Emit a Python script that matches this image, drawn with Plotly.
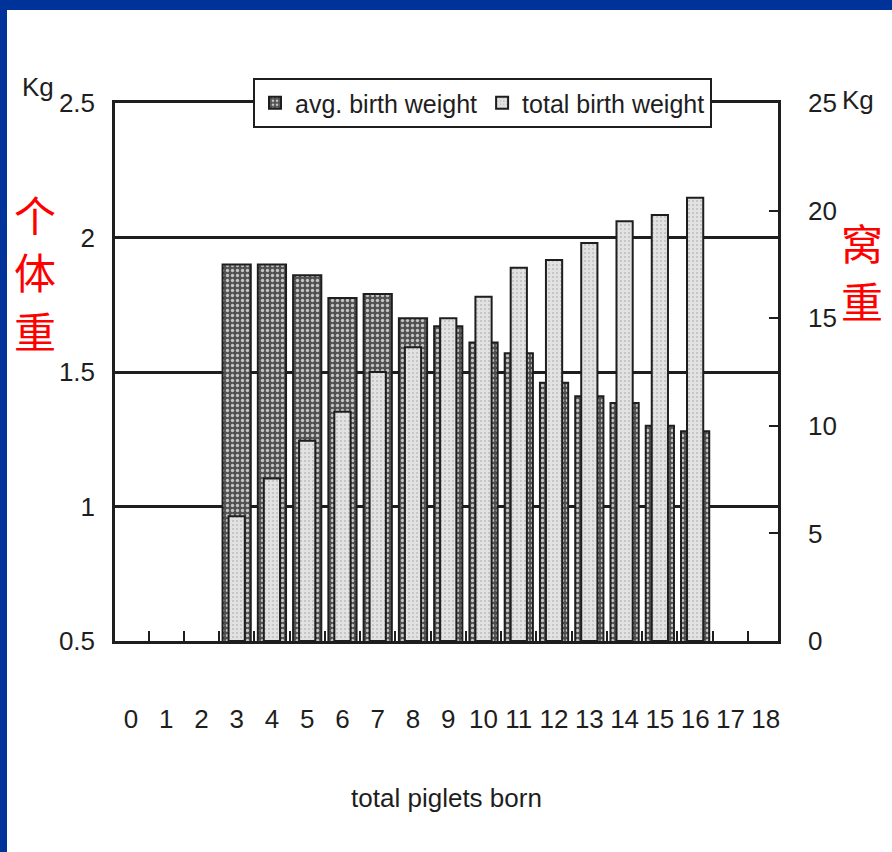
import plotly.graph_objects as go

# ---------------- data ----------------
categories = [str(i) for i in range(19)]
avg_weight = [None, None, None, 1.90, 1.90, 1.86, 1.775, 1.79, 1.70, 1.67,
              1.61, 1.57, 1.46, 1.41, 1.385, 1.30, 1.28, None, None]
total_weight = [None, None, None, 5.8, 7.55, 9.3, 10.65, 12.5, 13.65, 15.0,
                16.0, 17.35, 17.7, 18.5, 19.5, 19.8, 20.6, None, None]
left_ticks = [0.5, 1, 1.5, 2, 2.5]
left_labels = ["0.5", "1", "1.5", "2", "2.5"]
right_ticks = [0, 5, 10, 15, 20, 25]
right_labels = ["0", "5", "10", "15", "20", "25"]
left_note = ["个", "体", "重"]
right_note = ["窝", "重"]

# ---------------- layout helpers ----------------
W, H = 892, 852
L, R, T, B = 115, 114, 103, 211
PW, PH = W - L - R, H - T - B


def px(x):
    return (x - L) / PW


def py(y):
    return (H - B - y) / PH


FONT = "Liberation Sans, Arial, sans-serif"
INK = "#1e1e1e"
BLUE = "#00339a"

fig = go.Figure()
fig.add_trace(go.Bar(
    x=categories, y=avg_weight, name="avg. birth weight", width=0.8,
    yaxis="y",
    marker=dict(
        color="#5c5c5c",
        line=dict(color=INK, width=2),
        pattern=dict(shape=".", fgcolor="#c4c4c4", bgcolor="#505050",
                     size=5, solidity=0.35, fillmode="replace"),
    ),
))
fig.add_trace(go.Bar(
    x=categories, y=total_weight, name="total birth weight", width=0.46,
    yaxis="y2",
    marker=dict(
        color="#dcdcdc",
        line=dict(color=INK, width=2),
        pattern=dict(shape=".", fgcolor="#bdbdbd", bgcolor="#e2e2e2",
                     size=4, solidity=0.2, fillmode="replace"),
    ),
))

fig.update_layout(
    width=W, height=H,
    margin=dict(l=L, r=R, t=T, b=B, pad=0),
    paper_bgcolor="white", plot_bgcolor="white",
    barmode="overlay",
    font=dict(family=FONT, size=26, color=INK),
    showlegend=True,
    legend=dict(
        orientation="h", x=px(253), y=py(78), xanchor="left", yanchor="top",
        bgcolor="white", bordercolor=INK, borderwidth=2,
        font=dict(family=FONT, size=25, color=INK),
        itemwidth=30, traceorder="normal",
    ),
    xaxis=dict(
        type="category", categoryorder="array", categoryarray=categories,
        range=[-0.45, 18.35], tickson="boundaries", tickmode="linear", dtick=1,
        tickangle=0,
        ticks="inside", ticklen=10, tickwidth=2, tickcolor=INK,
        showgrid=False, showline=True, linewidth=2.5, linecolor=INK, mirror=True,
        tickfont=dict(family=FONT, size=26, color=INK),
        ticklabelstandoff=53,
        title=dict(text="total piglets born", standoff=56,
                   font=dict(family=FONT, size=26, color=INK)),
    ),
    yaxis=dict(
        range=[0.5, 2.5], tickmode="array", tickvals=left_ticks, ticktext=left_labels,
        ticks="", showgrid=True, gridcolor=INK, gridwidth=2.5,
        showline=True, linewidth=2.5, linecolor=INK, zeroline=False,
        tickfont=dict(family=FONT, size=26, color=INK),
        ticklabelstandoff=12,
    ),
    yaxis2=dict(
        overlaying="y", side="right", range=[0, 25],
        tickmode="array", tickvals=right_ticks, ticktext=right_labels,
        ticks="inside", ticklen=9, tickwidth=2, tickcolor=INK,
        showgrid=False, showline=True, linewidth=2.5, linecolor=INK, zeroline=False,
        tickfont=dict(family=FONT, size=26, color=INK),
        ticklabelstandoff=22,
    ),
)

# unit labels
fig.add_annotation(x=px(38), y=py(87), xref="paper", yref="paper", text="Kg",
                   xanchor="center", yanchor="middle",
                   showarrow=False, font=dict(family=FONT, size=26, color=INK))
fig.add_annotation(x=px(858), y=py(100), xref="paper", yref="paper", text="Kg",
                   xanchor="center", yanchor="middle",
                   showarrow=False, font=dict(family=FONT, size=26, color=INK))

# Chinese red axis notes, one character per annotation
CJK = "Noto Sans CJK SC"
for ch, yc in zip(left_note, [213, 270, 329]):
    fig.add_annotation(x=px(35), y=py(yc), xref="paper", yref="paper",
                       xanchor="center", yanchor="middle", text=ch, showarrow=False,
                       font=dict(family=CJK, size=42, color="#ff0000"))
for ch, yc in zip(right_note, [241, 299]):
    fig.add_annotation(x=px(862), y=py(yc), xref="paper", yref="paper",
                       xanchor="center", yanchor="middle", text=ch, showarrow=False,
                       font=dict(family=CJK, size=42, color="#ff0000"))

# blue slide frame
fig.add_shape(type="rect", xref="paper", yref="paper", x0=px(0), x1=px(W),
              y0=py(10), y1=py(0), fillcolor=BLUE, line=dict(width=0), layer="above")
fig.add_shape(type="rect", xref="paper", yref="paper", x0=px(0), x1=px(7),
              y0=py(H), y1=py(0), fillcolor=BLUE, line=dict(width=0), layer="above")

fig.write_html("out.html", config={"displayModeBar": False},
               post_script="document.body.style.margin='0';")
